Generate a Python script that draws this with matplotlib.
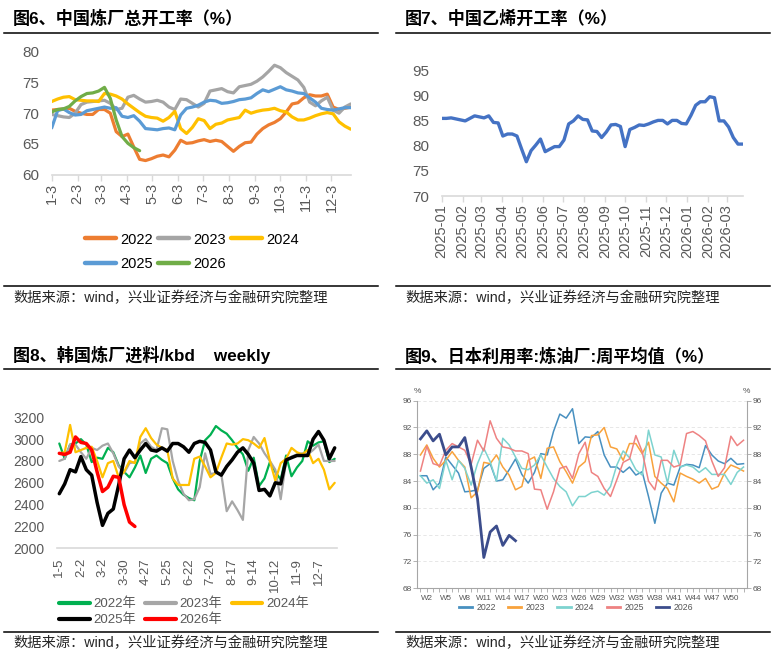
import matplotlib
matplotlib.use('Agg')
import matplotlib.pyplot as plt
from matplotlib.lines import Line2D
import numpy as np
import pandas as pd

plt.rcParams['font.family'] = ['Liberation Sans', 'Noto Sans CJK SC', 'DejaVu Sans']

# ---- data: fig 6, China refinery run rate (%), weekly, one line per year
cn_2022 = [70.5, 70.6, 70.7, 70.8, 70.3, 70.0, 69.8, 69.8, 70.6, 70.6,
           70.0, 67.0, 66.2, 66.6, 64.5, 62.5, 62.3, 62.6, 63.0, 63.2,
           62.9, 64.0, 65.6, 65.1, 65.2, 65.5, 65.7, 65.4, 65.6, 65.4,
           64.6, 63.8, 64.6, 65.2, 65.3, 66.6, 67.5, 68.1, 68.5, 69.1,
           70.2, 71.5, 71.7, 72.5, 73.0, 72.8, 72.8, 73.1, 71.0, 70.6,
           70.8, 71.0]
cn_2023 = [69.8, 69.6, 69.4, 69.3, 70.0, 71.4, 71.8, 71.9, 72.0, 72.1,
           71.6, 70.6, 70.8, 72.6, 72.9, 72.3, 71.8, 71.9, 72.1, 71.8,
           71.0, 70.6, 72.3, 72.2, 71.6, 71.0, 71.6, 73.6, 73.8, 74.0,
           73.5, 73.3, 74.3, 74.5, 74.7, 75.2, 75.9, 76.8, 77.8, 77.4,
           76.6, 76.0, 75.4, 74.2, 71.8, 71.2, 72.0, 72.6, 70.5, 70.0,
           71.0, 71.5]
cn_2024 = [71.9, 72.3, 72.6, 72.7, 72.2, 72.1, 72.0, 72.0, 71.9, 73.2,
           73.1, 72.8, 72.3, 71.5, 70.8, 70.1, 69.5, 69.3, 69.2, 68.7,
           69.3, 70.3, 67.5, 66.7, 67.7, 69.1, 68.8, 67.5, 68.2, 68.4,
           68.9, 69.1, 69.3, 70.5, 70.0, 70.3, 70.5, 70.6, 70.8, 70.4,
           70.2, 69.4, 68.9, 68.9, 69.2, 69.6, 69.9, 70.1, 69.9, 68.6,
           67.9, 67.4]
cn_2025 = [67.6, 70.4, 70.7, 70.1, 69.7, 69.8, 70.4, 70.6, 70.8, 71.0,
           70.8, 70.9, 69.5, 69.3, 69.6, 68.7, 67.5, 67.4, 67.3, 67.5,
           67.6, 67.3, 69.7, 70.8, 71.0, 71.3, 71.8, 72.1, 72.0, 71.6,
           71.7, 71.9, 72.2, 72.3, 72.5, 73.2, 73.8, 73.5, 73.9, 74.3,
           73.8, 73.6, 73.3, 73.2, 72.5, 71.8, 70.8, 70.6, 70.5, 70.7,
           70.9, 70.9]
cn_2026 = [70.2, 70.6, 70.7, 71.1, 72.0, 72.7, 73.2, 73.3, 73.6, 74.2,
           72.4, 68.9, 66.2, 65.1, 64.4, 63.9]
cn_years = ['2022', '2023', '2024', '2025', '2026']
cn_month_labels = ['1-3', '2-3', '3-3', '4-3', '5-3', '6-3',
                   '7-3', '8-3', '9-3', '10-3', '11-3', '12-3']

# ---- data: fig 7, China ethylene run rate (%), weekly
eth_start = '2025-01-03'
eth_rate = [85.4, 85.4, 85.5, 85.3, 85.1, 84.9, 85.4, 85.9, 85.7, 85.5,
            85.9, 84.6, 84.5, 81.9, 82.3, 82.3, 81.9, 79.3, 76.8, 79.0,
            80.1, 81.3, 78.8, 79.3, 79.8, 79.8, 81.1, 84.3, 84.9, 85.9,
            85.2, 85.1, 82.9, 82.8, 81.6, 82.7, 84.1, 84.2, 83.8, 79.8,
            83.2, 83.6, 84.1, 84.0, 84.3, 84.7, 85.0, 85.0, 84.3, 85.0,
            85.0, 84.4, 84.3, 86.0, 88.0, 88.7, 88.7, 89.7, 89.5, 84.9,
            84.9, 83.7, 81.6, 80.3, 80.3]

# ---- data: fig 8, Korea refinery throughput (kbd), weekly
kr_2022 = [2960, 2820, 2950, 2960, 3000, 2950, 2790, 2830, 2820, 2920,
           2880, 2760, 2700, 2650, 2740, 2850, 2690, 2820, 2850, 2810,
           2780, 2640, 2540, 2490, 2460, 2440, 2800, 2990, 3040, 3120,
           3080, 3050, 2990, 2920, 2860, 2710, 2830, 2570, 2640, 2790,
           2700, 2630, 2850, 2660, 2740, 2800, 2980, 2940, 2970, 2980,
           2790, 2820]
kr_2023 = [2800, 2820, 2950, 2950, 2880, 2820, 2920, 2900, 2940, 2960,
           2870, 2750, 2690, 2780, 2790, 2960, 3000, 2930, 2900, 3100,
           3090, 2800, 2620, 2500, 2440, 2450, 2560, 2870, 2680, 2690,
           2680, 2340, 2430, 2350, 2260, 2900, 3020, 2960, 2870, 2800,
           2720, 2450, 2800, 2840, 2860, 2870, 2860, 2900, 2950, 2800,
           2800, 2800]
kr_2024 = [2870, 2880, 3130, 2880, 2900, 2920, 2930, 2800, 2650, 2780,
           2800, 2650, 2700, 2800, 2780, 3020, 3100, 3010, 2950, 2920,
           2900, 2640, 2580, 2580, 2580, 2820, 2840, 2750, 2650, 2690,
           2830, 2960, 2950, 2960, 3000, 2990, 2960, 2920, 3010, 2800,
           2620, 2780, 2820, 2920, 2880, 2860, 2900, 2780, 2820, 2720,
           2540, 2600]
kr_2025 = [2500, 2590, 2720, 2700, 2840, 2720, 2670, 2420, 2210, 2320,
           2360, 2580, 2820, 2900, 2830, 2900, 2960, 2900, 2890, 2920,
           2890, 2960, 2960, 2930, 2880, 2960, 2980, 2970, 2900, 2700,
           2670, 2750, 2810, 2880, 2920, 2860, 2780, 2530, 2540, 2480,
           2600, 2590, 2810, 2830, 2850, 2850, 2850, 3000, 3070, 2990,
           2820, 2920]
kr_2026 = [2870, 2860, 2880, 3020, 2970, 2960, 2900, 2700, 2520, 2560,
           2660, 2650, 2400, 2240, 2200]
kr_years = ['2022年', '2023年', '2024年', '2025年', '2026年']
kr_week_labels = ['1-5', '2-2', '3-2', '3-30', '4-27', '5-25', '6-22',
                  '7-20', '8-17', '9-14', '10-12', '11-9', '12-7']

# ---- data: fig 9, Japan refinery utilisation, weekly average (%)
jp_2022 = [84.8, 84.8, 82.7, 83.7, 87.6, 86.4, 85.2, 82.4, 82.5, 82.7,
           85.9, 86.6, 84.0, 84.2, 85.7, 87.3, 85.0, 83.7, 85.3, 88.1,
           87.9, 91.4, 94.0, 93.4, 94.8, 89.6, 90.6, 90.5, 91.4, 87.9,
           86.1, 86.1, 85.3, 86.1, 84.9, 85.4, 81.7, 77.7, 82.2, 83.7,
           83.4, 86.1, 86.5, 86.4, 86.0, 89.3, 87.9, 87.0, 86.6, 87.4,
           86.5, 86.6]
jp_2023 = [87.9, 89.4, 87.4, 86.1, 87.1, 88.4, 87.1, 86.1, 81.5, 82.4,
           86.8, 86.6, 87.9, 86.1, 84.9, 82.7, 83.2, 87.1, 87.6, 84.4,
           88.9, 89.1, 86.9, 85.4, 83.7, 86.1, 86.9, 90.8, 90.9, 92.0,
           89.1, 88.8, 87.1, 89.6, 89.6, 88.1, 89.8, 84.7, 83.7, 82.9,
           80.9, 85.2, 84.7, 84.3, 83.7, 84.4, 82.8, 83.2, 85.2, 86.4,
           86.0, 85.5]
jp_2024 = [84.8, 83.7, 84.2, 82.9, 87.1, 84.2, 87.1, 85.9, 83.4, 86.6,
           88.9, 86.9, 84.0, 90.4, 89.4, 87.6, 85.9, 85.7, 86.4, 87.9,
           86.1, 84.4, 83.2, 82.4, 80.3, 81.7, 81.7, 82.3, 82.5, 81.9,
           83.2, 86.4, 88.5, 87.5, 85.7, 84.9, 91.6, 87.9, 87.6, 83.7,
           88.6, 86.1, 86.4, 86.1, 85.3, 86.0, 85.0, 85.0, 85.0, 83.5,
           85.3, 86.1]
jp_2025 = [85.5, 89.2, 86.6, 86.3, 88.6, 89.6, 89.1, 88.6, 86.5, 90.1,
           88.5, 93.0, 90.4, 89.1, 88.9, 88.5, 88.5, 88.1, 82.8, 82.7,
           79.8, 82.4, 85.9, 86.2, 84.4, 88.1, 89.8, 85.3, 84.7, 82.9,
           81.7, 84.2, 86.8, 87.3, 90.8, 88.4, 84.0, 82.7, 87.1, 87.1,
           86.1, 86.4, 91.1, 91.4, 90.8, 90.0, 87.0, 84.7, 86.0, 90.7,
           89.3, 90.1]
jp_2026 = [90.3, 91.5, 90.0, 91.0, 87.9, 89.1, 89.1, 90.5, 86.1, 81.4,
           72.6, 76.4, 77.3, 74.4, 75.9, 75.1]
jp_years = ['2022', '2023', '2024', '2025', '2026']
jp_week_labels = ['W2', 'W5', 'W8', 'W11', 'W14', 'W17', 'W20', 'W23', 'W26',
                  'W29', 'W32', 'W35', 'W38', 'W41', 'W44', 'W47', 'W50']

SRC = '数据来源：wind，兴业证券经济与金融研究院整理'
TICK = '#595959'

W, H = 780, 655
fig = plt.figure(figsize=(W / 100, H / 100), dpi=100)


def fx(px):
    return px / W


def fy(py):
    return 1 - py / H


def box(l, t, r, b):
    return [fx(l), fy(b), fx(r) - fx(l), fy(t) - fy(b)]


def hline(x0, x1, y):
    fig.add_artist(Line2D([fx(x0), fx(x1)], [fy(y), fy(y)], color='black',
                          lw=1.1, transform=fig.transFigure))


def frame(x0, x1, title_x, title_y, rule_y, title, src_rule_y, src_y):
    fig.text(fx(title_x), fy(title_y), title, fontsize=12.3, fontweight='bold',
             va='center', ha='left', color='black')
    hline(x0, x1, rule_y)
    hline(x0, x1, src_rule_y)
    fig.text(fx(title_x), fy(src_y), SRC, fontsize=10.3, va='center', ha='left',
             color='#262626')


def excel_axes(ax):
    for s in ['top', 'right', 'left']:
        ax.spines[s].set_visible(False)
    ax.spines['bottom'].set_color('#d9d9d9')
    ax.spines['bottom'].set_linewidth(1.2)
    ax.tick_params(axis='y', length=0, colors=TICK)
    ax.tick_params(axis='x', colors=TICK)
    ax.patch.set_alpha(0)


def reorder(ax):
    h, l = ax.get_legend_handles_labels()
    idx = [0, 3, 1, 4, 2]
    return [h[i] for i in idx], [l[i] for i in idx]


# ---------------- fig 6
frame(4, 378, 13, 18, 33.3, '图6、中国炼厂总开工率（%）', 285.7, 297.7)
ax1 = fig.add_axes(box(51.7, 51.7, 350.7, 174.7))
d1 = pd.date_range('2022-01-03', periods=len(cn_2022), freq='7D')
cn_colors = ['#ED7D31', '#A5A5A5', '#FFC000', '#5B9BD5', '#70AD47']
for vals, lab, col in zip([cn_2022, cn_2023, cn_2024, cn_2025, cn_2026],
                          cn_years, cn_colors):
    ax1.plot(d1[:len(vals)], vals, color=col, lw=2.3, label=lab,
             solid_joinstyle='round', solid_capstyle='round')
ax1.set_xlim(d1[0], d1[-1])
ax1.set_ylim(60, 80)
ax1.set_yticks([60, 65, 70, 75, 80])
m1 = pd.date_range('2022-01-03', periods=len(cn_month_labels),
                   freq=pd.DateOffset(months=1))
ax1.set_xticks(m1)
ax1.set_xticklabels(cn_month_labels, rotation=90, fontsize=10.5)
excel_axes(ax1)
ax1.tick_params(axis='x', length=4, width=1, color='#d9d9d9', pad=2)
ax1.tick_params(axis='y', labelsize=11, pad=9)
h, l = reorder(ax1)
fig.legend(h, l, loc='center', bbox_to_anchor=(fx(192), fy(252)), ncol=3,
           frameon=False, fontsize=10.5, handlelength=2.1, handletextpad=0.3,
           columnspacing=0.35, labelspacing=0.75, borderpad=0)
for ln in fig.legends[-1].get_lines():
    ln.set_linewidth(3.2)

# ---------------- fig 7
frame(396, 770, 405, 18, 33.3, '图7、中国乙烯开工率（%）', 285.7, 297.7)
ax2 = fig.add_axes(box(441.7, 70, 742.7, 196))
d2 = pd.date_range(eth_start, periods=len(eth_rate), freq='7D')
ax2.plot(d2, eth_rate, color='#4472C4', lw=2.4, solid_joinstyle='round',
         solid_capstyle='round')
ax2.set_xlim(d2[0], d2[-1])
ax2.set_ylim(70, 95)
ax2.set_yticks([70, 75, 80, 85, 90, 95])
m2 = pd.date_range(eth_start, d2[-1], freq=pd.DateOffset(months=1))
ax2.set_xticks(m2)
ax2.set_xticklabels([d.strftime('%Y-%m') for d in m2], rotation=90,
                    fontsize=10.5)
excel_axes(ax2)
ax2.tick_params(axis='x', length=4, width=1, color='#d9d9d9', pad=2)
ax2.tick_params(axis='y', labelsize=11, pad=9)

# ---------------- fig 8
frame(4, 378, 13, 355, 369.3, '图8、韩国炼厂进料/kbd    weekly', 631.7, 643.3)
ax3 = fig.add_axes(box(56.6, 417.3, 337.4, 548.3))
kr_colors = ['#00B050', '#A6A6A6', '#FFC000', '#000000', '#FF0000']
kr_widths = [1.6, 1.6, 1.6, 2.5, 2.5]
for vals, lab, col, lw in zip([kr_2022, kr_2023, kr_2024, kr_2025, kr_2026],
                              kr_years, kr_colors, kr_widths):
    ax3.plot(np.arange(len(vals)), vals, color=col, lw=lw, label=lab,
             solid_joinstyle='round', solid_capstyle='round')
ax3.set_xlim(-0.5, len(kr_2022) - 0.5)
ax3.set_ylim(2000, 3200)
ax3.set_yticks(np.arange(2000, 3201, 200))
ax3.set_xticks(np.arange(len(kr_week_labels)) * 4)
ax3.set_xticklabels(kr_week_labels, rotation=90, fontsize=9.5)
excel_axes(ax3)
ax3.tick_params(axis='x', length=0, pad=7)
ax3.tick_params(axis='y', labelsize=10, pad=9)
h, l = reorder(ax3)
leg3 = fig.legend(h, l, loc='center', bbox_to_anchor=(fx(184), fy(612)), ncol=3,
                  frameon=False, fontsize=9.5, handlelength=2.3, handletextpad=0.3,
                  columnspacing=0.7, labelspacing=0.25, borderpad=0,
                  labelcolor=TICK)
for ln in leg3.get_lines():
    ln.set_linewidth(3)

# ---------------- fig 9
frame(396, 770, 405, 356, 369.3, '图9、日本利用率:炼油厂:周平均值（%）', 631.7, 643.3)
ax4 = fig.add_axes(box(417.3, 400.7, 746.7, 588.3))
jp_colors = ['#4890c0', '#f8a23c', '#7dd3cf', '#ee8282', '#3c4d8c']
jp_widths = [1.1, 1.1, 1.1, 1.1, 2.0]
weeks = np.arange(1, len(jp_2022) + 1)
for vals, lab, col, lw in zip([jp_2022, jp_2023, jp_2024, jp_2025, jp_2026],
                              jp_years, jp_colors, jp_widths):
    ax4.plot(weeks[:len(vals)], vals, color=col, lw=lw, label=lab,
             solid_joinstyle='round')
ax4.set_xlim(0.5, len(jp_2022) + 0.5)
ax4.set_ylim(68, 96)
yt4 = np.arange(68, 97, 4)
ax4.set_yticks(yt4)
ax4.yaxis.grid(True, color='#e3e3e3', ls=(0, (4, 3)), lw=0.6)
ax4.set_axisbelow(True)
ax4.set_xticks(weeks, minor=True)
ax4.set_xticks(np.arange(len(jp_week_labels)) * 3 + 2)
ax4.set_xticklabels(jp_week_labels)
ax4.spines['top'].set_visible(False)
for s in ['left', 'right', 'bottom']:
    ax4.spines[s].set_color('#a6a6a6')
    ax4.spines[s].set_linewidth(0.8)
ax4.tick_params(axis='x', which='both', length=3, width=0.6, color='#a6a6a6',
                labelsize=5.8, labelcolor='#555555', pad=2)
ax4.tick_params(axis='y', length=3, width=0.6, color='#a6a6a6', labelsize=6,
                labelcolor='#555555', pad=1)
ax4r = ax4.twinx()
ax4r.set_ylim(68, 96)
ax4r.set_yticks(yt4)
for s in ['top', 'left', 'bottom', 'right']:
    ax4r.spines[s].set_visible(False)
ax4r.tick_params(axis='y', length=3, width=0.6, color='#a6a6a6', labelsize=6,
                 labelcolor='#555555', pad=1)
fig.text(fx(417.3), fy(391.7), '%', fontsize=6, color='#555555', ha='center',
         va='center')
fig.text(fx(746.5), fy(391.7), '%', fontsize=6, color='#555555', ha='center',
         va='center')
h, l = ax4.get_legend_handles_labels()
leg4 = fig.legend(h, l, loc='center', bbox_to_anchor=(fx(576), fy(608)), ncol=5,
                  frameon=False, fontsize=6.3, handlelength=1.5, handletextpad=0.5,
                  columnspacing=1.4, borderpad=0, labelcolor='#555555')
for ln in leg4.get_lines():
    ln.set_linewidth(2)

fig.savefig('out.png', dpi=100)
